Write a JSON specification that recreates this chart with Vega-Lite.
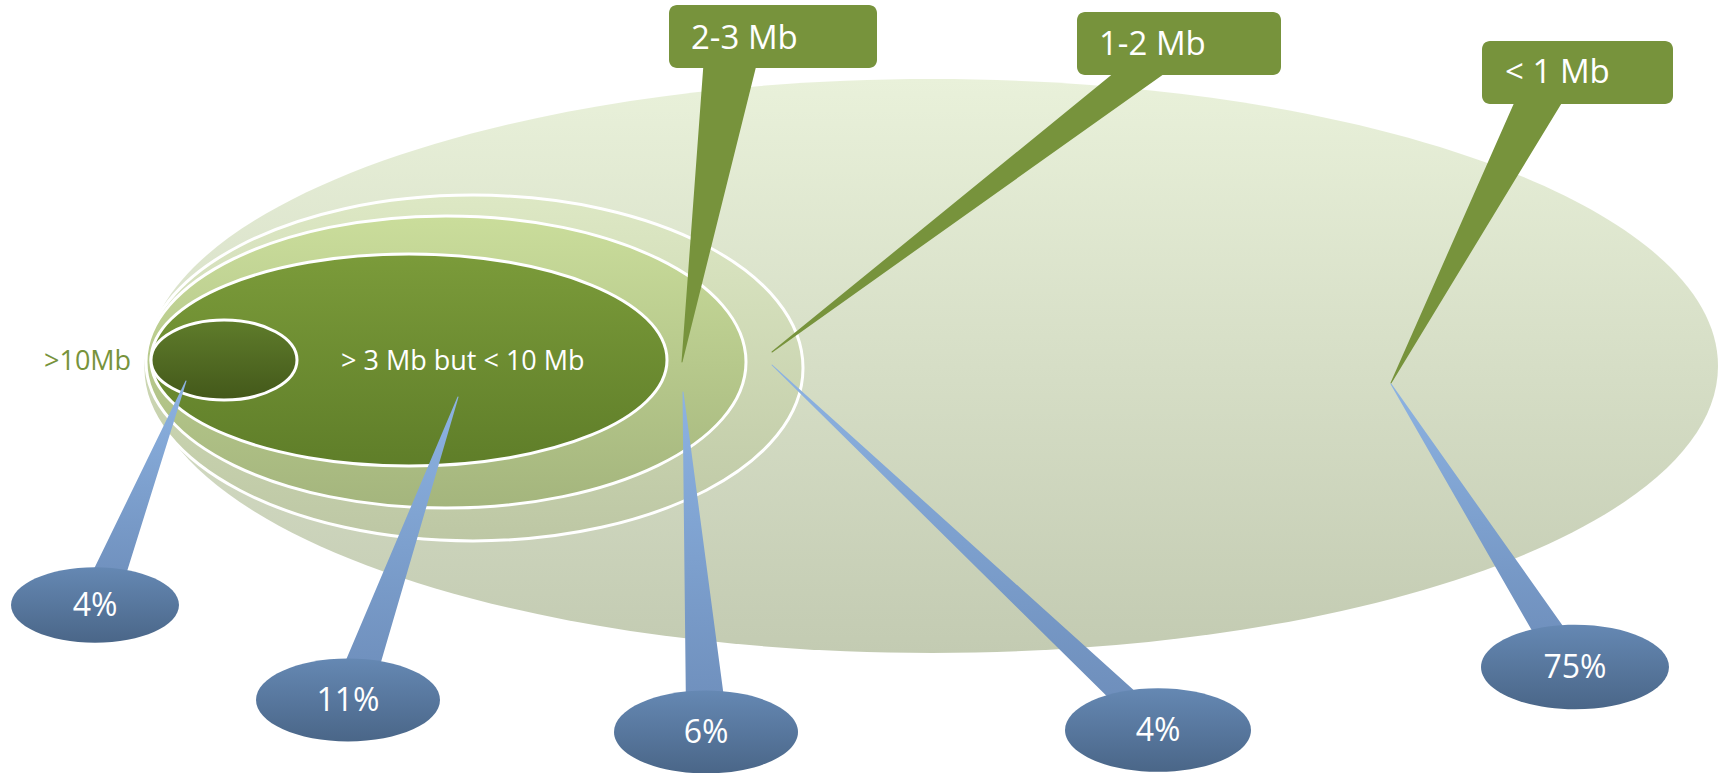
{
  "$schema": "https://vega.github.io/schema/vega-lite/v6.json",
  "width": 1720,
  "height": 773,
  "padding": 0,
  "autosize": {"type": "none"},
  "background": "#ffffff",
  "config": {"view": {"stroke": null}},
  "datasets": {
    "rings": [
      {"id": "big", "cx": 932, "cy": 366, "w": 1572},
      {"id": "r2", "cx": 473, "cy": 368, "w": 660},
      {"id": "r3", "cx": 446, "cy": 362, "w": 600},
      {"id": "r4", "cx": 409, "cy": 360, "w": 516},
      {"id": "small", "cx": 224, "cy": 360, "w": 146}
    ],
    "ringText": [
      {"text": ">10Mb", "x": 44, "y": 362, "kind": "outer"},
      {"text": "> 3 Mb but < 10 Mb", "x": 341, "y": 362, "kind": "inner"}
    ],
    "pointers": [
      {"id": "g23", "kind": "green", "x": 732, "y": 50, "w": 55},
      {"id": "g23", "kind": "green", "x": 682, "y": 362, "w": 0},
      {"id": "g12", "kind": "green", "x": 1162, "y": 55, "w": 33},
      {"id": "g12", "kind": "green", "x": 772, "y": 352, "w": 0},
      {"id": "g1", "kind": "green", "x": 1547, "y": 84, "w": 45},
      {"id": "g1", "kind": "green", "x": 1391, "y": 383, "w": 0},
      {"id": "b4a", "kind": "blue", "x": 105, "y": 585, "w": 34},
      {"id": "b4a", "kind": "blue", "x": 186, "y": 381, "w": 0},
      {"id": "b11", "kind": "blue", "x": 357, "y": 680, "w": 36},
      {"id": "b11", "kind": "blue", "x": 458, "y": 397, "w": 0},
      {"id": "b6", "kind": "blue", "x": 706, "y": 714, "w": 40},
      {"id": "b6", "kind": "blue", "x": 683, "y": 392, "w": 0},
      {"id": "b4b", "kind": "blue", "x": 1139, "y": 711, "w": 24},
      {"id": "b4b", "kind": "blue", "x": 772, "y": 365, "w": 0},
      {"id": "b75", "kind": "blue", "x": 1561, "y": 650, "w": 31},
      {"id": "b75", "kind": "blue", "x": 1391, "y": 384, "w": 0}
    ],
    "boxes": [
      {"label": "2-3 Mb", "x1": 669, "x2": 877, "y1": 5, "y2": 68, "tx": 691, "ty": 39},
      {"label": "1-2 Mb", "x1": 1077, "x2": 1281, "y1": 12, "y2": 75, "tx": 1099, "ty": 45},
      {"label": "< 1 Mb", "x1": 1482, "x2": 1673, "y1": 41, "y2": 104, "tx": 1505, "ty": 73}
    ],
    "pcts": [
      {"pct": "4%", "cx": 95, "cy": 605, "w": 168},
      {"pct": "11%", "cx": 348, "cy": 700, "w": 184},
      {"pct": "6%", "cx": 706, "cy": 732, "w": 184},
      {"pct": "4%", "cx": 1158, "cy": 730, "w": 186},
      {"pct": "75%", "cx": 1575, "cy": 667, "w": 188}
    ]
  },
  "resolve": {"scale": {"size": "independent", "color": "independent"}},
  "layer": [
    {
      "data": {"name": "rings"},
      "transform": [{"filter": "datum.id === 'big'"}],
      "mark": {"type": "point", "filled": true, "opacity": 1, "strokeWidth": 0,
        "shape": "M-1,0C-1,-0.2016,-0.5523,-0.365,0,-0.365C0.5523,-0.365,1,-0.2016,1,0C1,0.2016,0.5523,0.365,0,0.365C-0.5523,0.365,-1,0.2016,-1,0Z",
        "fill": {"gradient": "linear", "x1": 0, "y1": 0, "x2": 0, "y2": 1, "stops": [{"offset": 0, "color": "#e9f1da"}, {"offset": 1, "color": "#c3cbb2"}]}},
      "encoding": {
        "x": {"field": "cx", "type": "quantitative", "scale": {"domain": [0, 1720], "nice": false, "zero": false}, "axis": null},
        "y": {"field": "cy", "type": "quantitative", "scale": {"domain": [0, 773], "reverse": true, "nice": false, "zero": false}, "axis": null},
        "size": {"field": "w", "type": "quantitative", "scale": {"type": "pow", "exponent": 2, "domain": [0, 2000], "range": [0, 4000000]}, "legend": null}
      }
    },
    {
      "data": {"name": "rings"},
      "transform": [{"filter": "datum.id === 'r2'"}],
      "mark": {"type": "point", "filled": true, "opacity": 1, "stroke": "#ffffff", "strokeWidth": 3, "strokeOpacity": 1,
        "shape": "M-1,0C-1,-0.2894,-0.5523,-0.524,0,-0.524C0.5523,-0.524,1,-0.2894,1,0C1,0.2894,0.5523,0.524,0,0.524C-0.5523,0.524,-1,0.2894,-1,0Z",
        "fill": {"gradient": "linear", "x1": 0, "y1": 0, "x2": 0, "y2": 1, "stops": [{"offset": 0, "color": "#dde8c4"}, {"offset": 1, "color": "#bdc7a4"}]}},
      "encoding": {
        "x": {"field": "cx", "type": "quantitative", "scale": {"domain": [0, 1720], "nice": false, "zero": false}, "axis": null},
        "y": {"field": "cy", "type": "quantitative", "scale": {"domain": [0, 773], "reverse": true, "nice": false, "zero": false}, "axis": null},
        "size": {"field": "w", "type": "quantitative", "scale": {"type": "pow", "exponent": 2, "domain": [0, 2000], "range": [0, 4000000]}, "legend": null}
      }
    },
    {
      "data": {"name": "rings"},
      "transform": [{"filter": "datum.id === 'r3'"}],
      "mark": {"type": "point", "filled": true, "opacity": 1, "stroke": "#ffffff", "strokeWidth": 3, "strokeOpacity": 1,
        "shape": "M-1,0C-1,-0.269,-0.5523,-0.487,0,-0.487C0.5523,-0.487,1,-0.269,1,0C1,0.269,0.5523,0.487,0,0.487C-0.5523,0.487,-1,0.269,-1,0Z",
        "fill": {"gradient": "linear", "x1": 0, "y1": 0, "x2": 0, "y2": 1, "stops": [{"offset": 0, "color": "#cadd9b"}, {"offset": 1, "color": "#a4b57d"}]}},
      "encoding": {
        "x": {"field": "cx", "type": "quantitative", "scale": {"domain": [0, 1720], "nice": false, "zero": false}, "axis": null},
        "y": {"field": "cy", "type": "quantitative", "scale": {"domain": [0, 773], "reverse": true, "nice": false, "zero": false}, "axis": null},
        "size": {"field": "w", "type": "quantitative", "scale": {"type": "pow", "exponent": 2, "domain": [0, 2000], "range": [0, 4000000]}, "legend": null}
      }
    },
    {
      "data": {"name": "rings"},
      "transform": [{"filter": "datum.id === 'r4'"}],
      "mark": {"type": "point", "filled": true, "opacity": 1, "stroke": "#ffffff", "strokeWidth": 3, "strokeOpacity": 1,
        "shape": "M-1,0C-1,-0.227,-0.5523,-0.411,0,-0.411C0.5523,-0.411,1,-0.227,1,0C1,0.227,0.5523,0.411,0,0.411C-0.5523,0.411,-1,0.227,-1,0Z",
        "fill": {"gradient": "linear", "x1": 0, "y1": 0, "x2": 0, "y2": 1, "stops": [{"offset": 0, "color": "#7b9b3a"}, {"offset": 1, "color": "#5f7e29"}]}},
      "encoding": {
        "x": {"field": "cx", "type": "quantitative", "scale": {"domain": [0, 1720], "nice": false, "zero": false}, "axis": null},
        "y": {"field": "cy", "type": "quantitative", "scale": {"domain": [0, 773], "reverse": true, "nice": false, "zero": false}, "axis": null},
        "size": {"field": "w", "type": "quantitative", "scale": {"type": "pow", "exponent": 2, "domain": [0, 2000], "range": [0, 4000000]}, "legend": null}
      }
    },
    {
      "data": {"name": "rings"},
      "transform": [{"filter": "datum.id === 'small'"}],
      "mark": {"type": "point", "filled": true, "opacity": 1, "stroke": "#ffffff", "strokeWidth": 3, "strokeOpacity": 1,
        "shape": "M-1,0C-1,-0.3027,-0.5523,-0.548,0,-0.548C0.5523,-0.548,1,-0.3027,1,0C1,0.3027,0.5523,0.548,0,0.548C-0.5523,0.548,-1,0.3027,-1,0Z",
        "fill": {"gradient": "linear", "x1": 0, "y1": 0, "x2": 0, "y2": 1, "stops": [{"offset": 0, "color": "#5f7c2b"}, {"offset": 1, "color": "#43581a"}]}},
      "encoding": {
        "x": {"field": "cx", "type": "quantitative", "scale": {"domain": [0, 1720], "nice": false, "zero": false}, "axis": null},
        "y": {"field": "cy", "type": "quantitative", "scale": {"domain": [0, 773], "reverse": true, "nice": false, "zero": false}, "axis": null},
        "size": {"field": "w", "type": "quantitative", "scale": {"type": "pow", "exponent": 2, "domain": [0, 2000], "range": [0, 4000000]}, "legend": null}
      }
    },
    {
      "data": {"name": "ringText"},
      "mark": {"type": "text", "align": "left", "baseline": "middle", "font": "Open Sans", "fontSize": 27},
      "encoding": {
        "x": {"field": "x", "type": "quantitative", "scale": {"domain": [0, 1720], "nice": false, "zero": false}, "axis": null},
        "y": {"field": "y", "type": "quantitative", "scale": {"domain": [0, 773], "reverse": true, "nice": false, "zero": false}, "axis": null},
        "text": {"field": "text"},
        "color": {"field": "kind", "type": "nominal", "scale": {"domain": ["outer", "inner"], "range": ["#77933c", "#ffffff"]}, "legend": null}
      }
    },
    {
      "data": {"name": "pointers"},
      "transform": [{"filter": "datum.kind === 'green'"}],
      "mark": {"type": "trail", "fill": "#77933c", "color": "#77933c", "opacity": 1},
      "encoding": {
        "x": {"field": "x", "type": "quantitative", "scale": {"domain": [0, 1720], "nice": false, "zero": false}, "axis": null},
        "y": {"field": "y", "type": "quantitative", "scale": {"domain": [0, 773], "reverse": true, "nice": false, "zero": false}, "axis": null},
        "size": {"field": "w", "type": "quantitative", "scale": {"type": "linear", "domain": [0, 100], "range": [0, 100]}, "legend": null},
        "detail": {"field": "id", "type": "nominal"}
      }
    },
    {
      "data": {"name": "pointers"},
      "transform": [{"filter": "datum.kind === 'blue'"}],
      "mark": {"type": "trail", "opacity": 1,
        "fill": {"gradient": "linear", "x1": 0, "y1": 0, "x2": 0, "y2": 1, "stops": [{"offset": 0, "color": "#8db3e2"}, {"offset": 1, "color": "#6c8cb9"}]}},
      "encoding": {
        "x": {"field": "x", "type": "quantitative", "scale": {"domain": [0, 1720], "nice": false, "zero": false}, "axis": null},
        "y": {"field": "y", "type": "quantitative", "scale": {"domain": [0, 773], "reverse": true, "nice": false, "zero": false}, "axis": null},
        "size": {"field": "w", "type": "quantitative", "scale": {"type": "linear", "domain": [0, 100], "range": [0, 100]}, "legend": null},
        "detail": {"field": "id", "type": "nominal"}
      }
    },
    {
      "data": {"name": "boxes"},
      "mark": {"type": "rect", "fill": "#77933c", "cornerRadius": 8},
      "encoding": {
        "x": {"field": "x1", "type": "quantitative", "scale": {"domain": [0, 1720], "nice": false, "zero": false}, "axis": null},
        "x2": {"field": "x2"},
        "y": {"field": "y1", "type": "quantitative", "scale": {"domain": [0, 773], "reverse": true, "nice": false, "zero": false}, "axis": null},
        "y2": {"field": "y2"}
      }
    },
    {
      "data": {"name": "boxes"},
      "mark": {"type": "text", "align": "left", "baseline": "middle", "font": "Open Sans", "fontSize": 33, "color": "#ffffff"},
      "encoding": {
        "x": {"field": "tx", "type": "quantitative", "scale": {"domain": [0, 1720], "nice": false, "zero": false}, "axis": null},
        "y": {"field": "ty", "type": "quantitative", "scale": {"domain": [0, 773], "reverse": true, "nice": false, "zero": false}, "axis": null},
        "text": {"field": "label"}
      }
    },
    {
      "data": {"name": "pcts"},
      "mark": {"type": "point", "filled": true, "opacity": 1, "strokeWidth": 0,
        "shape": "M-1,0C-1,-0.2485,-0.5523,-0.45,0,-0.45C0.5523,-0.45,1,-0.2485,1,0C1,0.2485,0.5523,0.45,0,0.45C-0.5523,0.45,-1,0.2485,-1,0Z",
        "fill": {"gradient": "linear", "x1": 0, "y1": 0, "x2": 0, "y2": 1, "stops": [{"offset": 0, "color": "#6588b3"}, {"offset": 1, "color": "#4a6688"}]}},
      "encoding": {
        "x": {"field": "cx", "type": "quantitative", "scale": {"domain": [0, 1720], "nice": false, "zero": false}, "axis": null},
        "y": {"field": "cy", "type": "quantitative", "scale": {"domain": [0, 773], "reverse": true, "nice": false, "zero": false}, "axis": null},
        "size": {"field": "w", "type": "quantitative", "scale": {"type": "pow", "exponent": 2, "domain": [0, 2000], "range": [0, 4000000]}, "legend": null}
      }
    },
    {
      "data": {"name": "pcts"},
      "mark": {"type": "text", "align": "center", "baseline": "middle", "font": "Open Sans", "fontSize": 32, "color": "#ffffff", "dy": 1},
      "encoding": {
        "x": {"field": "cx", "type": "quantitative", "scale": {"domain": [0, 1720], "nice": false, "zero": false}, "axis": null},
        "y": {"field": "cy", "type": "quantitative", "scale": {"domain": [0, 773], "reverse": true, "nice": false, "zero": false}, "axis": null},
        "text": {"field": "pct"}
      }
    }
  ]
}
